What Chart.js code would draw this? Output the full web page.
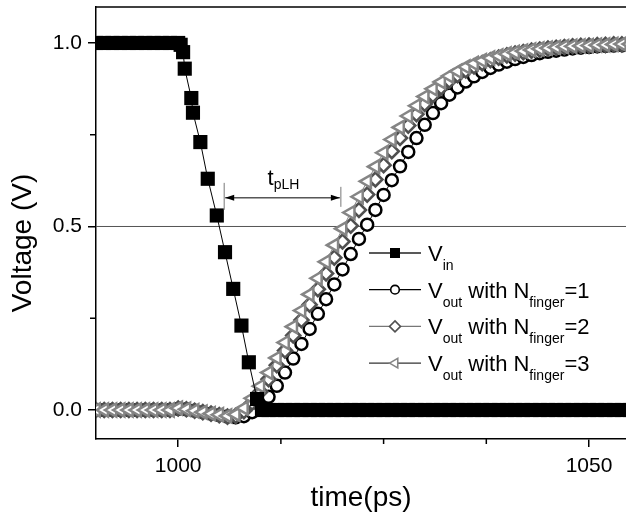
<!DOCTYPE html>
<html>
<head>
<meta charset="utf-8">
<script src="https://cdn.jsdelivr.net/npm/chart.js@4.4.1/dist/chart.umd.min.js"></script>
<style>
  html, body { margin: 0; padding: 0; background: #fff; overflow: hidden; }
  #wrap { width: 626px; height: 518px; position: relative; }
</style>
</head>
<body>
<div id="wrap"><canvas id="chart"></canvas></div>
<script>
// input pulse (ps, V)
const vinTimes = [990, 991, 992, 993, 994, 995, 996, 997, 998, 999, 1000,
  1000.3, 1000.6, 1000.8, 1001.6, 1001.8, 1002.7, 1003.6, 1004.7, 1005.7, 1006.7, 1007.7, 1008.6, 1009.6, 1010.2,
  1011, 1012, 1013, 1014, 1015, 1016, 1017, 1018, 1019, 1020, 1021, 1022, 1023, 1024, 1025,
  1026, 1027, 1028, 1029, 1030, 1031, 1032, 1033, 1034, 1035, 1036, 1037, 1038, 1039, 1040,
  1041, 1042, 1043, 1044, 1045, 1046, 1047, 1048, 1049, 1050, 1051, 1052, 1053, 1054, 1055];
const vinValues = [1, 1, 1, 1, 1, 1, 1, 1, 1, 1, 1,
  0.995, 0.975, 0.93, 0.85, 0.81, 0.73, 0.63, 0.53, 0.43, 0.33, 0.23, 0.13, 0.03, 0,
  0, 0, 0, 0, 0, 0, 0, 0, 0, 0, 0, 0, 0, 0, 0,
  0, 0, 0, 0, 0, 0, 0, 0, 0, 0, 0, 0, 0, 0, 0,
  0, 0, 0, 0, 0, 0, 0, 0, 0, 0, 0, 0, 0, 0, 0];

// output samples (ps)
const outTimes = [990, 991, 992, 993, 994, 995, 996, 997, 998, 999,
  1000, 1001, 1002, 1003, 1004, 1005, 1006, 1007, 1008, 1009,
  1010, 1011, 1012, 1013, 1014, 1015, 1016, 1017, 1018, 1019,
  1020, 1021, 1022, 1023, 1024, 1025, 1026, 1027, 1028, 1029,
  1030, 1031, 1032, 1033, 1034, 1035, 1036, 1037, 1038, 1039,
  1040, 1041, 1042, 1043, 1044, 1045, 1046, 1047, 1048, 1049,
  1050, 1051, 1052, 1053, 1054, 1055];
const n1Values = [0, 0, 0, 0, 0, 0, 0, 0, 0, 0,
  0.003, 0.002, -0.002, -0.006, -0.010, -0.014, -0.018, -0.020, -0.017, -0.006,
  0.012, 0.036, 0.066, 0.102, 0.140, 0.180, 0.221, 0.262, 0.302, 0.342,
  0.383, 0.425, 0.466, 0.505, 0.545, 0.586, 0.626, 0.664, 0.703, 0.741,
  0.777, 0.809, 0.836, 0.859, 0.879, 0.895, 0.909, 0.921, 0.932, 0.941,
  0.949, 0.956, 0.962, 0.967, 0.972, 0.976, 0.979, 0.982, 0.985, 0.987,
  0.989, 0.991, 0.992, 0.993, 0.994, 0.995];
const n2Values = [0, 0, 0, 0, 0, 0, 0, 0, 0, 0,
  0.004, 0.002, -0.002, -0.006, -0.010, -0.014, -0.018, -0.016, -0.003, 0.020,
  0.050, 0.084, 0.122, 0.162, 0.203, 0.245, 0.287, 0.329, 0.372, 0.415,
  0.459, 0.502, 0.545, 0.587, 0.628, 0.667, 0.705, 0.741, 0.775, 0.806,
  0.834, 0.858, 0.879, 0.897, 0.912, 0.925, 0.936, 0.945, 0.953, 0.960,
  0.966, 0.971, 0.975, 0.979, 0.982, 0.985, 0.987, 0.989, 0.991, 0.992,
  0.993, 0.994, 0.995, 0.996, 0.996, 0.997];
const n3Values = [0, 0, 0, 0, 0, 0, 0, 0, 0, 0,
  0.005, 0.002, -0.002, -0.006, -0.010, -0.013, -0.016, -0.012, 0.005, 0.032,
  0.065, 0.102, 0.142, 0.184, 0.227, 0.271, 0.315, 0.359, 0.404, 0.449,
  0.494, 0.538, 0.581, 0.623, 0.663, 0.701, 0.737, 0.770, 0.801, 0.829,
  0.854, 0.875, 0.894, 0.910, 0.923, 0.935, 0.944, 0.952, 0.959, 0.965,
  0.970, 0.974, 0.978, 0.981, 0.984, 0.986, 0.988, 0.990, 0.991, 0.992,
  0.993, 0.994, 0.995, 0.996, 0.997, 0.997];

const xMajorTicks = [1000, 1050];
const xMinorTicks = [1012.5, 1025, 1037.5];
const yMajorTicks = [0, 0.5, 1.0];
const yMinorTicks = [0.25, 0.75];
const refLevel = 0.5;

// tpLH marker: start / end time and level
const tplhStart = 1005.6;
const tplhEnd = 1019.8;
const tplhLevel = 0.578;

const xTitle = 'time(ps)';
const yTitle = 'Voltage (V)';
const legendLabels = [
  [['V', 0], ['in', 1]],
  [['V', 0], ['out', 1], [' with N', 0], ['finger', 1], ['=1', 0]],
  [['V', 0], ['out', 1], [' with N', 0], ['finger', 1], ['=2', 0]],
  [['V', 0], ['out', 1], [' with N', 0], ['finger', 1], ['=3', 0]]
];

const FONT = '"Liberation Sans", Arial, Helvetica, sans-serif';
Chart.defaults.font.family = FONT;
Chart.defaults.color = '#000';

const zip = (xs, ys) => xs.map((x, i) => ({ x: x, y: ys[i] }));

function drawMarker(ctx, style, x, y, r, stroke, fill, lw) {
  ctx.save();
  ctx.beginPath();
  if (style === 'rect') ctx.rect(x - r, y - r, 2 * r, 2 * r);
  else if (style === 'circle') ctx.arc(x, y, r, 0, Math.PI * 2);
  else if (style === 'rectRot') {
    ctx.moveTo(x, y - r); ctx.lineTo(x + r, y); ctx.lineTo(x, y + r); ctx.lineTo(x - r, y); ctx.closePath();
  } else if (style === 'triangle') {
    ctx.moveTo(x - r, y); ctx.lineTo(x + r * 0.5, y - r * 0.866); ctx.lineTo(x + r * 0.5, y + r * 0.866); ctx.closePath();
  }
  ctx.fillStyle = fill;
  ctx.fill();
  if (lw > 0) { ctx.lineWidth = lw; ctx.strokeStyle = stroke; ctx.stroke(); }
  ctx.restore();
}

function drawRichText(ctx, parts, x, baseline, big, small, drop) {
  ctx.save();
  ctx.fillStyle = '#000';
  ctx.textBaseline = 'alphabetic';
  ctx.textAlign = 'left';
  parts.forEach(([txt, sub]) => {
    ctx.font = (sub ? small : big) + 'px ' + FONT;
    ctx.fillText(txt, x, sub ? baseline + drop : baseline);
    x += ctx.measureText(txt).width;
  });
  ctx.restore();
}

const legendMarkers = [
  { style: 'rect', r: 5, stroke: '#000', fill: '#000', lw: 0, line: '#222' },
  { style: 'circle', r: 4.3, stroke: '#000', fill: '#fff', lw: 1.6, line: '#000' },
  { style: 'rectRot', r: 5.5, stroke: '#505050', fill: '#fff', lw: 1.6, line: '#777' },
  { style: 'triangle', r: 5.5, stroke: '#858585', fill: '#fff', lw: 1.6, line: '#333' }
];

const decor = {
  id: 'decor',
  beforeDatasetsDraw(chart) {
    const { ctx, chartArea: a, scales: { y } } = chart;
    const yy = y.getPixelForValue(refLevel);
    ctx.save();
    ctx.strokeStyle = '#555';
    ctx.lineWidth = 1;
    ctx.beginPath();
    ctx.moveTo(a.left, yy); ctx.lineTo(a.right, yy);
    ctx.stroke();
    ctx.restore();
  },
  afterDraw(chart) {
    const { ctx, chartArea: a, scales: { x, y } } = chart;
    ctx.save();
    // top frame
    ctx.strokeStyle = '#000';
    ctx.lineWidth = 1.5;
    ctx.beginPath();
    ctx.moveTo(a.left, a.top); ctx.lineTo(a.right, a.top);
    ctx.stroke();
    // minor ticks
    xMinorTicks.forEach(v => {
      const px = x.getPixelForValue(v);
      ctx.beginPath(); ctx.moveTo(px, a.bottom); ctx.lineTo(px, a.bottom + 5); ctx.stroke();
    });
    yMinorTicks.forEach(v => {
      const py = y.getPixelForValue(v);
      ctx.beginPath(); ctx.moveTo(a.left, py); ctx.lineTo(a.left - 6, py); ctx.stroke();
    });

    // y axis title, centred a little below the plot middle as in the original
    ctx.save();
    ctx.translate(23, y.getPixelForValue(0.455));
    ctx.rotate(-Math.PI / 2);
    ctx.font = '28px ' + FONT;
    ctx.fillStyle = '#000';
    ctx.textAlign = 'center';
    ctx.textBaseline = 'middle';
    ctx.fillText(yTitle, 0, 0);
    ctx.restore();

    // tpLH arrow
    const x1 = x.getPixelForValue(tplhStart), x2 = x.getPixelForValue(tplhEnd);
    const ya = y.getPixelForValue(tplhLevel);
    ctx.strokeStyle = '#777';
    ctx.lineWidth = 1;
    ctx.beginPath();
    ctx.moveTo(x1, ya - 15); ctx.lineTo(x1, ya + 12);
    ctx.moveTo(x2, ya - 11); ctx.lineTo(x2, ya + 9);
    ctx.stroke();
    ctx.strokeStyle = '#000';
    ctx.beginPath();
    ctx.moveTo(x1 + 1, ya); ctx.lineTo(x2 - 1, ya);
    ctx.stroke();
    ctx.fillStyle = '#000';
    ctx.beginPath();
    ctx.moveTo(x1 + 1, ya); ctx.lineTo(x1 + 10, ya - 3); ctx.lineTo(x1 + 10, ya + 3); ctx.closePath();
    ctx.moveTo(x2 - 1, ya); ctx.lineTo(x2 - 10, ya - 3); ctx.lineTo(x2 - 10, ya + 3); ctx.closePath();
    ctx.fill();
    const tx = x.getPixelForValue((tplhStart + tplhEnd) / 2) - 15;
    drawRichText(ctx, [['t', 0], ['pLH', 1]], tx, ya - 13, 22, 14, 4);

    // legend
    legendLabels.forEach((parts, i) => {
      const m = legendMarkers[i];
      const ly = 253 + i * 36.7;
      ctx.strokeStyle = m.line;
      ctx.lineWidth = 1.3;
      ctx.beginPath(); ctx.moveTo(369, ly); ctx.lineTo(421, ly); ctx.stroke();
      drawMarker(ctx, m.style, 395, ly, m.r, m.stroke, m.fill, m.lw);
      drawRichText(ctx, parts, 428, ly + 8, 22, 14, 9);
    });
    ctx.restore();
  }
};

const tickFont = { size: 21 };
const axisGrid = { display: true, drawOnChartArea: false, drawTicks: true, tickLength: 8, color: '#000', lineWidth: 1.5 };
const axisBorder = { display: true, color: '#000', width: 1.5 };

new Chart(document.getElementById('chart'), {
  type: 'line',
  data: {
    datasets: [
      {
        label: 'Vin', data: zip(vinTimes, vinValues),
        borderColor: '#000', borderWidth: 1, tension: 0,
        pointStyle: 'rect', pointRadius: 10, pointBackgroundColor: '#000', pointBorderWidth: 0
      },
      {
        label: 'N3', data: zip(outTimes, n3Values),
        borderColor: '#858585', borderWidth: 1, tension: 0,
        pointStyle: 'triangle', pointRotation: -90, pointRadius: 7.5,
        pointBackgroundColor: '#fff', pointBorderColor: '#858585', pointBorderWidth: 2.5
      },
      {
        label: 'N2', data: zip(outTimes, n2Values),
        borderColor: '#505050', borderWidth: 1, tension: 0,
        pointStyle: 'rectRot', pointRadius: 7,
        pointBackgroundColor: '#fff', pointBorderColor: '#505050', pointBorderWidth: 2.6
      },
      {
        label: 'N1', data: zip(outTimes, n1Values),
        borderColor: '#000', borderWidth: 1, tension: 0,
        pointStyle: 'circle', pointRadius: 6,
        pointBackgroundColor: '#fff', pointBorderColor: '#000', pointBorderWidth: 2.5
      }
    ]
  },
  options: {
    responsive: true,
    maintainAspectRatio: false,
    animation: false,
    events: [],
    layout: { autoPadding: false, padding: { top: 7, right: 0, left: 0, bottom: 0 } },
    plugins: { legend: { display: false }, tooltip: { enabled: false } },
    scales: {
      x: {
        type: 'linear', min: 990, max: 1054.5,
        afterFit: s => { s.height = 79; s.paddingLeft = 0; s.paddingRight = 0; },
        afterBuildTicks: s => { s.ticks = xMajorTicks.map(v => ({ value: v })); },
        ticks: { font: tickFont, padding: 7, maxRotation: 0, autoSkip: false, callback: v => String(v) },
        grid: axisGrid, border: axisBorder,
        title: { display: true, text: xTitle, font: { size: 28 }, padding: { top: 0, bottom: 3 } }
      },
      y: {
        type: 'linear', min: -0.079, max: 1.098,
        afterFit: s => { s.width = 96; s.paddingTop = 0; s.paddingBottom = 0; },
        afterBuildTicks: s => { s.ticks = yMajorTicks.map(v => ({ value: v })); },
        ticks: { font: tickFont, padding: 6, autoSkip: false, callback: v => v.toFixed(1) },
        grid: axisGrid, border: axisBorder
      }
    }
  },
  plugins: [decor]
});
</script>
</body>
</html>
